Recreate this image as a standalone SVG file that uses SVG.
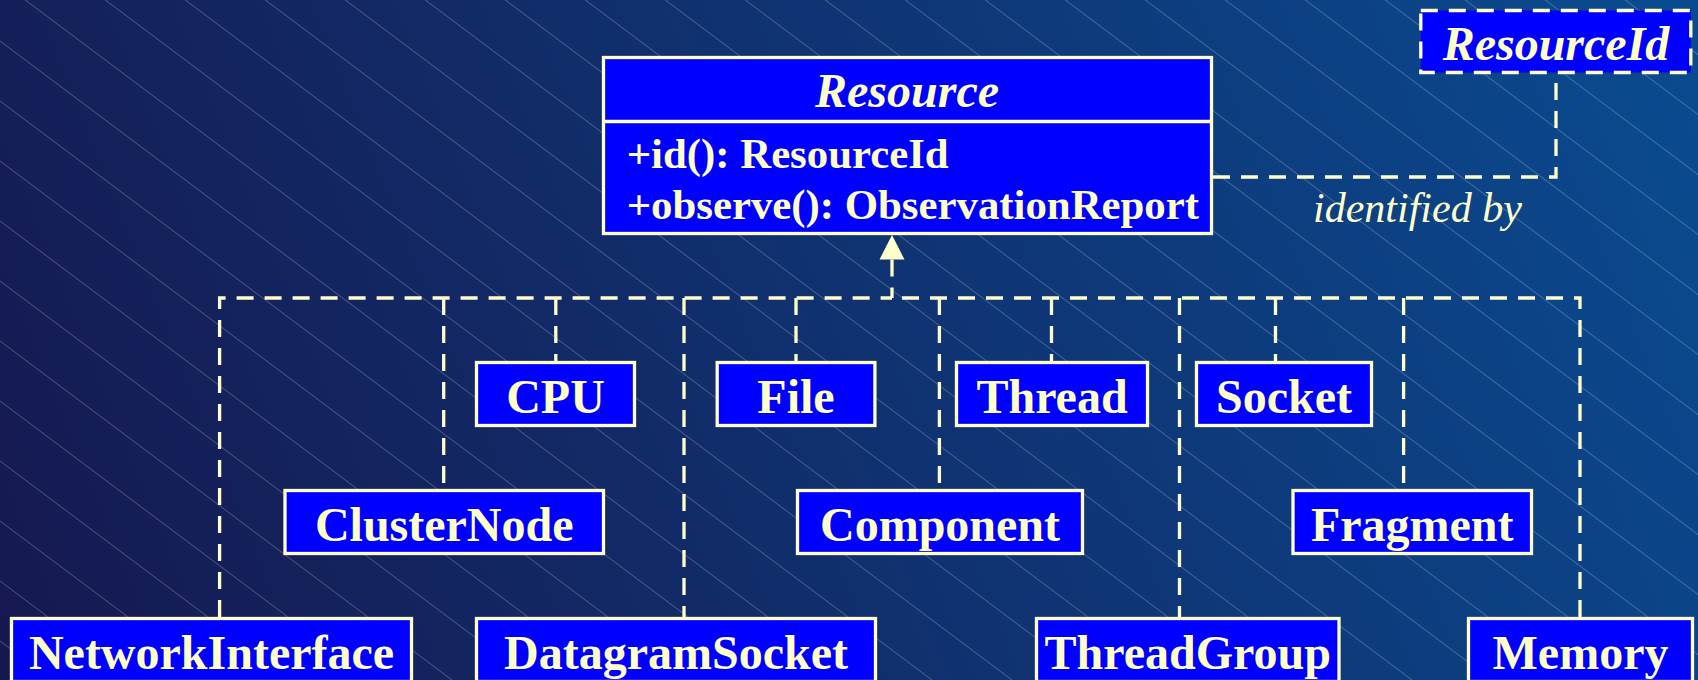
<svg xmlns="http://www.w3.org/2000/svg" width="1698" height="680" viewBox="0 0 1698 680">
<defs>
<linearGradient id="bg" x1="0" y1="680" x2="1698" y2="0" gradientUnits="userSpaceOnUse">
<stop offset="0" stop-color="#161850"/>
<stop offset="1" stop-color="#0a4b90"/>
</linearGradient>
<pattern id="hatch" patternUnits="userSpaceOnUse" x="25.3" y="0" width="80" height="60">
<path d="M-8,-6 L88,66 M70,-7.5 L90,7.5 M-10,52.5 L10,67.5" stroke="#ffffff" stroke-opacity="0.28" stroke-width="1" fill="none"/>
</pattern>
</defs>
<style>
.box{fill:#0000ff;stroke:#ffffcc;stroke-width:3.3}
.dbox{fill:#0000ff;stroke:#ffffcc;stroke-width:3.3;stroke-dasharray:17 11}
.lbl{font-family:"Liberation Serif","Times New Roman",serif;font-weight:bold;font-size:48px;fill:#ffffcc;text-anchor:middle}
.ttl{font-family:"Liberation Serif","Times New Roman",serif;font-weight:bold;font-style:italic;font-size:48px;fill:#ffffcc;text-anchor:middle}
.mem{font-family:"Liberation Serif","Times New Roman",serif;font-weight:bold;font-size:42.8px;fill:#ffffcc}
.note{font-family:"Liberation Serif","Times New Roman",serif;font-style:italic;font-size:42px;fill:#ffffcc}
.conn{fill:none;stroke:#ffffcc;stroke-width:3.3;stroke-dasharray:17 11}
</style>
<rect width="1698" height="680" fill="url(#bg)"/>
<rect width="1698" height="680" fill="url(#hatch)"/>

<g id="connectors">
<path class="conn" d="M892,259.5 V298"/>
<path class="conn" d="M219.6,617 V298 H892"/>
<path class="conn" d="M1580,617 V298 H892"/>
<path class="conn" d="M443.7,298 V489"/>
<path class="conn" d="M555.8,298 V361"/>
<path class="conn" d="M684,298 V617"/>
<path class="conn" d="M796,298 V361"/>
<path class="conn" d="M939.4,298 V489"/>
<path class="conn" d="M1051.5,298 V361"/>
<path class="conn" d="M1179.5,298 V617"/>
<path class="conn" d="M1275.5,298 V361"/>
<path class="conn" d="M1403.6,298 V489"/>
<path class="conn" d="M1213,177 H1556 V74"/>
<polygon points="892,235 879.5,259.5 904.5,259.5" fill="#ffffcc"/>
<text class="note" x="1313" y="222">identified by</text>
</g>

<g id="Resource">
<rect class="box" x="603.5" y="57.5" width="608" height="176"/>
<line x1="603.5" y1="121.5" x2="1211.5" y2="121.5" stroke="#ffffcc" stroke-width="3.3"/>
<text class="ttl" x="907" y="107">Resource</text>
<text class="mem" x="626.7" y="168">+id(): ResourceId</text>
<text class="mem" x="626.7" y="218.5">+observe(): ObservationReport</text>
</g>

<g id="ResourceId">
<rect class="dbox" x="1420.8" y="10.5" width="270" height="62"/>
<text class="ttl" x="1556" y="60">ResourceId</text>
</g>

<g id="CPU">
<rect class="box" x="476.5" y="362.5" width="158" height="63"/>
<text class="lbl" x="555.5" y="412.7">CPU</text>
</g>
<g id="File">
<rect class="box" x="717.2" y="362.5" width="157.7" height="63"/>
<text class="lbl" x="796" y="412.7">File</text>
</g>
<g id="Thread">
<rect class="box" x="956.5" y="362.5" width="191" height="63"/>
<text class="lbl" x="1052" y="412.7">Thread</text>
</g>
<g id="Socket">
<rect class="box" x="1196.5" y="362.5" width="175" height="63"/>
<text class="lbl" x="1284" y="412.7">Socket</text>
</g>

<g id="ClusterNode">
<rect class="box" x="285" y="490.5" width="318.5" height="63"/>
<text class="lbl" x="444.2" y="540.5">ClusterNode</text>
</g>
<g id="Component">
<rect class="box" x="797.5" y="490.5" width="285" height="63"/>
<text class="lbl" x="940" y="540.5">Component</text>
</g>
<g id="Fragment">
<rect class="box" x="1293" y="490.5" width="238.5" height="63"/>
<text class="lbl" x="1412.2" y="540.5">Fragment</text>
</g>

<g id="NetworkInterface">
<rect class="box" x="11.5" y="618.5" width="400" height="63"/>
<text class="lbl" x="211.5" y="668.5">NetworkInterface</text>
</g>
<g id="DatagramSocket">
<rect class="box" x="476.5" y="618.5" width="399" height="63"/>
<text class="lbl" x="676" y="668.5">DatagramSocket</text>
</g>
<g id="ThreadGroup">
<rect class="box" x="1036.5" y="618.5" width="302.5" height="63"/>
<text class="lbl" x="1187.7" y="668.5">ThreadGroup</text>
</g>
<g id="Memory">
<rect class="box" x="1468.5" y="618.5" width="224" height="63"/>
<text class="lbl" x="1580.5" y="668.5">Memory</text>
</g>
</svg>
